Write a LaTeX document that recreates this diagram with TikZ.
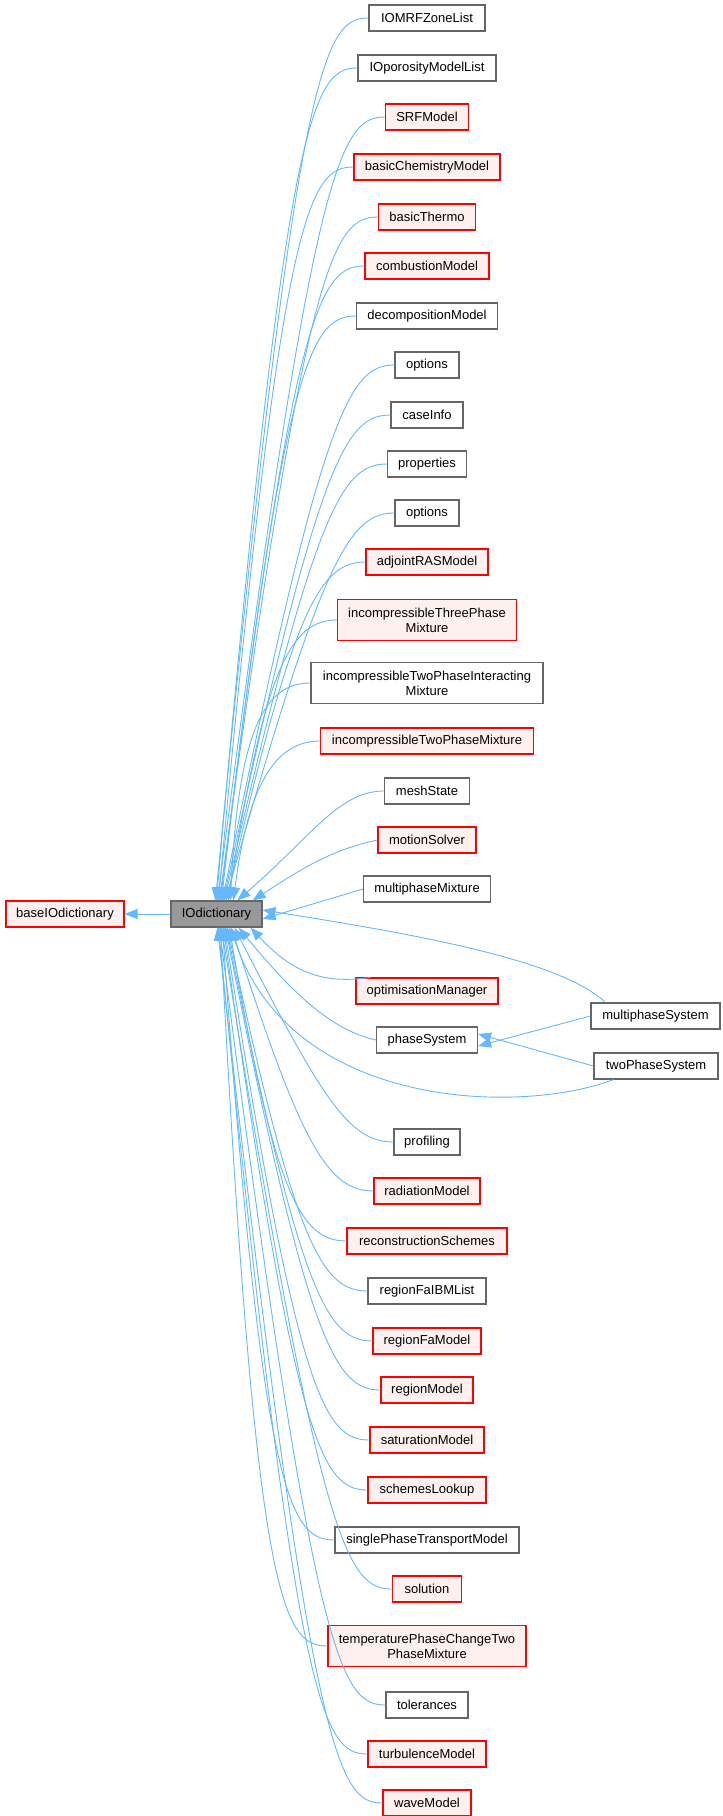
\documentclass[tikz,border=0pt]{standalone}
\usepackage{fontspec}
\setmainfont{Liberation Sans}
\usetikzlibrary{calc,arrows.meta}
\definecolor{edgec}{HTML}{63B8FF}
\definecolor{redb}{HTML}{FF0000}
\definecolor{redf}{HTML}{FFF0F0}
\definecolor{grayb}{HTML}{666666}
\begin{document}
\begin{tikzpicture}[x=1pt,y=-1pt,
  box/.style={draw=grayb,fill=white,line width=1.2pt,minimum height=26pt,inner sep=0pt,align=center,font=\fontsize{13}{15}\selectfont},
  redbox/.style={box,draw=redb,fill=redf},
  edge/.style={draw=edgec,line width=0.9pt,-{Triangle[length=13pt,width=10pt,fill=edgec]}}]
\useasboundingbox (0,0) rectangle (723,1816);
\newcommand\nd[5]{\node[#4,minimum width=#3pt] (#1) at (427,#2) {#5};}
\node[redbox,minimum width=118pt] (base) at (65,914) {baseIOdictionary};
\node[box,fill=black!40,minimum width=91pt] (io) at (216.5,914) {IOdictionary};
\nd{a1}{18}{116}{box}{IOMRFZoneList}
\nd{a2}{68}{138}{box}{IOporosityModelList}
\nd{a3}{117}{83}{redbox}{SRFModel}
\nd{a4}{167}{146}{redbox}{basicChemistryModel}
\nd{a5}{217}{97}{redbox}{basicThermo}
\nd{a6}{266}{124}{redbox}{combustionModel}
\nd{a7}{316}{141}{box}{decompositionModel}
\nd{a8}{365}{64}{box}{options}
\nd{a9}{415}{72}{box}{caseInfo}
\nd{a10}{464}{79}{box}{properties}
\nd{a11}{513}{64}{box}{options}
\nd{a12}{562}{122}{redbox}{adjointRASModel}
\node[redbox,minimum width=179pt,minimum height=41pt] (a13) at (427,620) {incompressibleThreePhase\\Mixture};
\node[box,minimum width=232pt,minimum height=41pt] (a14) at (427,683) {incompressibleTwoPhaseInteracting\\Mixture};
\nd{a15}{741}{213}{redbox}{incompressibleTwoPhaseMixture}
\nd{a16}{791}{85}{box}{meshState}
\nd{a17}{840}{98}{redbox}{motionSolver}
\nd{a18}{889}{127}{box}{multiphaseMixture}
\nd{a19}{991}{142}{redbox}{optimisationManager}
\nd{ps}{1040}{101}{box}{phaseSystem}
\node[box,minimum width=129pt] (ms) at (655.5,1016) {multiphaseSystem};
\node[box,minimum width=124pt] (tp) at (656,1066) {twoPhaseSystem};
\nd{b1}{1142}{66}{box}{profiling}
\nd{b2}{1191}{106}{redbox}{radiationModel}
\nd{b3}{1241}{160}{redbox}{reconstructionSchemes}
\nd{b4}{1291}{118}{box}{regionFaIBMList}
\nd{b5}{1341}{108}{redbox}{regionFaModel}
\nd{b6}{1390}{92}{redbox}{regionModel}
\nd{b7}{1440}{114}{redbox}{saturationModel}
\nd{b8}{1490}{118}{redbox}{schemesLookup}
\nd{b9}{1540}{184}{box}{singlePhaseTransportModel}
\nd{b10}{1589}{69}{redbox}{solution}
\node[redbox,minimum width=198pt,minimum height=41pt] (b11) at (427,1646) {temperaturePhaseChangeTwo\\PhaseMixture};
\nd{b12}{1705}{82}{box}{tolerances}
\nd{b13}{1754}{118}{redbox}{turbulenceModel}
\nd{b14}{1803}{88}{redbox}{waveModel}
\newcommand\upedge[2]{\draw[edge] let \p1=(#1.west) in (\p1) .. controls +(-45,0) and (\x1-72pt,\y1-45pt) .. ([xshift=#2pt]io.north west);}
\newcommand\dnedge[2]{\draw[edge] let \p1=(#1.west) in (\p1) .. controls +(-45,0) and (\x1-72pt,\y1+45pt) .. ([xshift=#2pt]io.south west);}
\draw[edge] (io.west) -- (base.east);
\upedge{a1}{45}\upedge{a2}{46}\upedge{a3}{47}\upedge{a4}{48}\upedge{a5}{49}
\upedge{a6}{50}\upedge{a7}{51}\upedge{a8}{52}\upedge{a9}{53}\upedge{a10}{54}
\upedge{a11}{55}\upedge{a12}{56}\upedge{a13}{58}\upedge{a14}{60}\upedge{a15}{63}
\upedge{a16}{67}
\draw[edge] (a17.west) .. controls (330,850) and (300,870) .. ([xshift=-10pt]io.north east);
\draw[edge] (a18.west) -- ([yshift=-5pt]io.east);
\draw[edge] ([xshift=15pt]ms.north west) .. controls (560,960) and (420,935) .. ([yshift=4pt]io.east);
\draw[edge] ([xshift=15pt]a19.north west) .. controls (320,985) and (290,970) .. ([xshift=-12pt]io.south east);
\draw[edge] (ps.west) .. controls (330,1030) and (290,990) .. ([xshift=-24pt]io.south east);
\draw[edge] ([xshift=20pt]tp.south west) .. controls (520,1115) and (290,1110) .. ([xshift=-32pt]io.south east);
\draw[edge] (ms.west) -- ([yshift=-6pt]ps.east);
\draw[edge] (tp.west) -- ([yshift=6pt]ps.east);
\dnedge{b1}{64}\dnedge{b2}{61}\dnedge{b3}{59}\dnedge{b4}{57}\dnedge{b5}{56}
\dnedge{b6}{55}\dnedge{b7}{54}\dnedge{b8}{53}\dnedge{b9}{52}\dnedge{b10}{51}
\dnedge{b11}{50}\dnedge{b12}{49}\dnedge{b13}{48}\dnedge{b14}{47}
\end{tikzpicture}
\end{document}
